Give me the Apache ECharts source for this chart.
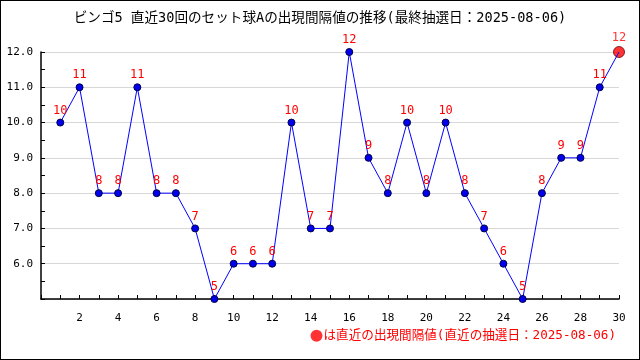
<!DOCTYPE html>
<html><head><meta charset="utf-8">
<script src="https://cdn.jsdelivr.net/npm/echarts@6/dist/echarts.min.js"></script>
<style>html,body{margin:0;padding:0;background:#fff}#c{width:640px;height:360px;box-sizing:border-box;border:1px solid #000}</style>
</head><body><div id="c"></div>
<script>
const draws = [1,2,3,4,5,6,7,8,9,10,11,12,13,14,15,16,17,18,19,20,21,22,23,24,25,26,27,28,29,30];
const intervals = [10,11,8,8,11,8,8,7,5,6,6,6,10,7,7,12,9,8,10,8,10,8,7,6,5,8,9,9,11,12];
const titleText = 'ビンゴ5 直近30回のセット球Aの出現間隔値の推移(最終抽選日：2025-08-06)';
const latestLabel = 'は直近の出現間隔値(直近の抽選日：2025-08-06)';
const font = '"DejaVu Sans Mono", "Noto Sans CJK JP", monospace';

const lineData = draws.map((d, i) => [d, intervals[i]]);
const lastIdx = draws.length - 1;
const chart = echarts.init(document.getElementById('c'));
chart.setOption({
  animation: false,
  textStyle: { fontFamily: font },
  title: { text: titleText, left: 'center', top: 6, textStyle: { fontFamily: font, fontSize: 13.6, fontWeight: 'normal', color: '#000' } },
  legend: { right: 18, bottom: 12, itemWidth: 12, itemHeight: 12, itemGap: 2, data: [{ name: latestLabel, icon: 'circle', itemStyle: { borderWidth: 0 } }],
    textStyle: { fontFamily: font, fontSize: 12.6, color: '#ff0000', padding: [0,0,0,-4] } },
  grid: { left: 40, right: 20, top: 51, bottom: 60 },
  xAxis: { type: 'value', min: 0, max: 30, interval: 1,
    axisLine: { lineStyle: { color: '#000', width: 1.5 } },
    axisTick: { inside: true, length: 4, lineStyle: { color: '#000' } },
    axisLabel: { color: '#000', fontFamily: font, fontSize: 11, margin: 14,
      formatter: v => (v > 0 && v % 2 === 0) ? String(v) : '' },
    splitLine: { show: false } },
  yAxis: { type: 'value', min: 5, max: 12, interval: 1,
    axisLine: { show: true, lineStyle: { color: '#000', width: 1.5 } },
    axisTick: { show: true, inside: true, length: 4, lineStyle: { color: '#000' } },
    minorTick: { show: true, splitNumber: 2, length: 4, lineStyle: { color: '#000' } },
    axisLabel: { color: '#000', fontFamily: font, fontSize: 11, margin: 8,
      formatter: v => v > 5 ? v.toFixed(1) : '' },
    splitLine: { show: true, lineStyle: { color: '#d8d8d8', width: 1 } } },
  series: [
    { type: 'line', name: 'interval', data: lineData, symbol: 'circle',
      symbolSize: (v, p) => p.dataIndex === lastIdx ? 0 : 7,
      lineStyle: { color: '#0000ff', width: 1 },
      itemStyle: { color: '#0000ee', borderColor: '#000044', borderWidth: 1 },
      label: { show: true, position: 'top', distance: 2, color: '#ff0000', fontFamily: font, fontSize: 12,
        formatter: p => p.dataIndex === lastIdx ? '' : String(p.value[1]) } },
    { type: 'scatter', name: latestLabel, data: [lineData[lastIdx]], symbol: 'circle', symbolSize: 11,
      itemStyle: { color: '#ff0000', borderColor: '#660000', borderWidth: 1 },
      label: { show: true, position: 'top', distance: 2, color: '#ff0000', fontFamily: font, fontSize: 12,
        formatter: p => String(p.value[1]) } }
  ]
});
</script></body></html>
